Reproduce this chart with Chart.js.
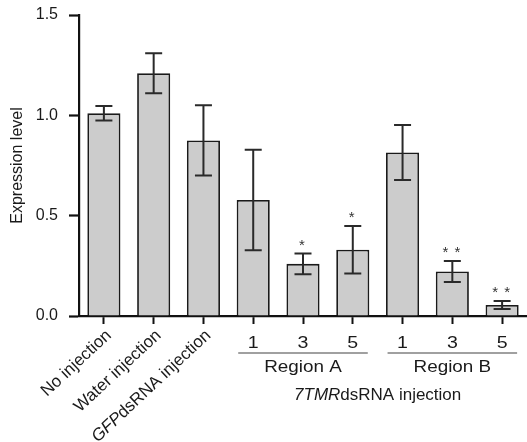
<!DOCTYPE html>
<html>
<head>
<meta charset="utf-8">
<script src="https://cdn.jsdelivr.net/npm/chart.js@4.4.1/dist/chart.umd.min.js"></script>
<style>
  html, body { margin: 0; padding: 0; background: #ffffff; }
  #wrap { width: 527px; height: 442px; position: relative; }
</style>
</head>
<body>
<div id="wrap"><canvas id="c"></canvas></div>
<script>
// ---- data ----
const categories = ['No injection', 'Water injection', 'GFPdsRNA injection', '1', '3', '5', '1', '3', '5'];
const italicPrefix = ['', '', 'GFP', '', '', '', '', '', ''];
const meanValues = [1.01, 1.21, 0.875, 0.578, 0.26, 0.33, 0.815, 0.222, 0.055];
const errorValues = [0.036, 0.10, 0.175, 0.25, 0.052, 0.118, 0.137, 0.052, 0.02];
const significanceCount = [0, 0, 0, 0, 1, 1, 0, 2, 2];
const yTicks = [0, 0.5, 1.0, 1.5];
const groupNames = ['Region A', 'Region B'];
const groupStart = [3, 6];
const groupEnd = [5, 8];
const groupTitleItalic = '7TMR';
const groupTitleRest = 'dsRNA injection';
const yTitle = 'Expression level';

const FONT = "'Liberation Sans', Arial, Helvetica, sans-serif";
const TEXT = '#1a1a1a';

function stretchedText(ctx, text, x, y, sx) {
  ctx.save();
  ctx.translate(x, y);
  ctx.scale(sx, 1);
  ctx.fillText(text, 0, 0);
  ctx.restore();
}

const annotate = {
  id: 'annotate',
  afterDatasetsDraw(chart) {
    const ctx = chart.ctx;
    const x = chart.scales.x, y = chart.scales.y;
    ctx.save();
    ctx.strokeStyle = '#2a2a2a';
    ctx.lineWidth = 2;
    meanValues.forEach((m, i) => {
      const cx = x.getPixelForValue(i);
      const yt = y.getPixelForValue(m + errorValues[i]);
      const yb = y.getPixelForValue(m - errorValues[i]);
      ctx.beginPath();
      ctx.moveTo(cx, yt); ctx.lineTo(cx, yb);
      ctx.moveTo(cx - 8.5, yt); ctx.lineTo(cx + 8.5, yt);
      ctx.moveTo(cx - 8.5, yb); ctx.lineTo(cx + 8.5, yb);
      ctx.stroke();
      const n = significanceCount[i];
      if (n) {
        ctx.fillStyle = '#333333';
        ctx.font = '15px ' + FONT;
        ctx.textAlign = 'center';
        ctx.textBaseline = 'middle';
        for (let k = 0; k < n; k++) {
          const off = (k - (n - 1) / 2) * 12;
          ctx.fillText('*', cx + off - 1, yt - 8);
        }
      }
    });
    ctx.restore();
  },
  afterDraw(chart) {
    const ctx = chart.ctx;
    const x = chart.scales.x;
    const base = chart.chartArea.bottom;
    ctx.save();
    ctx.fillStyle = TEXT;
    categories.forEach((lab, i) => {
      const cx = x.getPixelForValue(i);
      const inGroup = groupStart.some((s, g) => i >= s && i <= groupEnd[g]);
      if (!inGroup) {
        ctx.save();
        ctx.translate(cx + 5, base + 17);
        ctx.rotate(-43 * Math.PI / 180);
        const pre = italicPrefix[i];
        const rest = pre ? lab.slice(pre.length) : lab;
        ctx.font = 'italic 17px ' + FONT;
        const wp = pre ? ctx.measureText(pre).width : 0;
        ctx.font = '17px ' + FONT;
        const wr = ctx.measureText(rest).width;
        ctx.textBaseline = 'middle';
        ctx.textAlign = 'left';
        if (pre) {
          ctx.font = 'italic 17px ' + FONT;
          ctx.fillText(pre, -(wp + wr), 0);
        }
        ctx.font = '17px ' + FONT;
        ctx.fillText(rest, -wr, 0);
        ctx.restore();
      } else {
        ctx.font = '17px ' + FONT;
        ctx.textAlign = 'center';
        ctx.textBaseline = 'middle';
        stretchedText(ctx, lab, cx, base + 27, 1.15);
      }
    });
    groupNames.forEach((name, g) => {
      const x1 = x.getPixelForValue(groupStart[g]) - 15;
      const x2 = x.getPixelForValue(groupEnd[g]) + 15;
      ctx.strokeStyle = '#808080';
      ctx.lineWidth = 1.6;
      ctx.beginPath();
      ctx.moveTo(x1, base + 37); ctx.lineTo(x2, base + 37);
      ctx.stroke();
      ctx.font = '17px ' + FONT;
      ctx.textAlign = 'center';
      ctx.textBaseline = 'middle';
      stretchedText(ctx, name, (x1 + x2) / 2, base + 51, 1.11);
    });
    const gx1 = x.getPixelForValue(groupStart[0]) - 15;
    const gx2 = x.getPixelForValue(groupEnd[groupEnd.length - 1]) + 15;
    const mid = (gx1 + gx2) / 2;
    ctx.font = 'italic 17px ' + FONT;
    const wi = ctx.measureText(groupTitleItalic).width;
    ctx.font = '17px ' + FONT;
    const wn = ctx.measureText(groupTitleRest).width;
    const start = mid - (wi + wn) / 2;
    ctx.textAlign = 'left';
    ctx.textBaseline = 'middle';
    ctx.font = 'italic 17px ' + FONT;
    ctx.fillText(groupTitleItalic, start, base + 79);
    ctx.font = '17px ' + FONT;
    ctx.fillText(groupTitleRest, start + wi, base + 79);
    ctx.restore();
  }
};

new Chart(document.getElementById('c'), {
  type: 'bar',
  data: {
    labels: categories,
    datasets: [{
      data: meanValues,
      backgroundColor: '#cccccc',
      borderColor: '#1a1a1a',
      borderWidth: 1.8,
      borderSkipped: 'bottom',
      categoryPercentage: 1.0,
      barPercentage: 0.665
    }]
  },
  options: {
    responsive: true,
    maintainAspectRatio: false,
    animation: false,
    events: [],
    layout: { padding: { top: 15, right: 0, bottom: 118, left: 0 } },
    plugins: { legend: { display: false }, tooltip: { enabled: false } },
    scales: {
      x: {
        type: 'category',
        offset: true,
        grid: { display: true, offset: false, drawOnChartArea: false, tickLength: 8, tickWidth: 2, tickColor: '#111111' },
        border: { display: true, width: 2.2, color: '#111111' },
        ticks: { display: false }
      },
      y: {
        min: 0, max: 1.5,
        afterBuildTicks(scale) { scale.ticks = yTicks.map(v => ({ value: v })); },
        afterFit(scale) { scale.width = 79; scale.paddingTop = 0; scale.paddingBottom = 0; },
        grid: { display: true, drawOnChartArea: false, tickLength: 10, tickWidth: 2.2, tickColor: '#111111' },
        border: { display: true, width: 2.2, color: '#111111' },
        ticks: {
          padding: 11,
          color: TEXT,
          font: { family: FONT, size: 16 },
          callback: v => Number(v).toFixed(1)
        },
        title: {
          display: true,
          text: yTitle,
          color: TEXT,
          font: { family: FONT, size: 16 },
          padding: { top: 8, bottom: 4 }
        }
      }
    }
  },
  plugins: [annotate]
});
</script>
</body>
</html>
